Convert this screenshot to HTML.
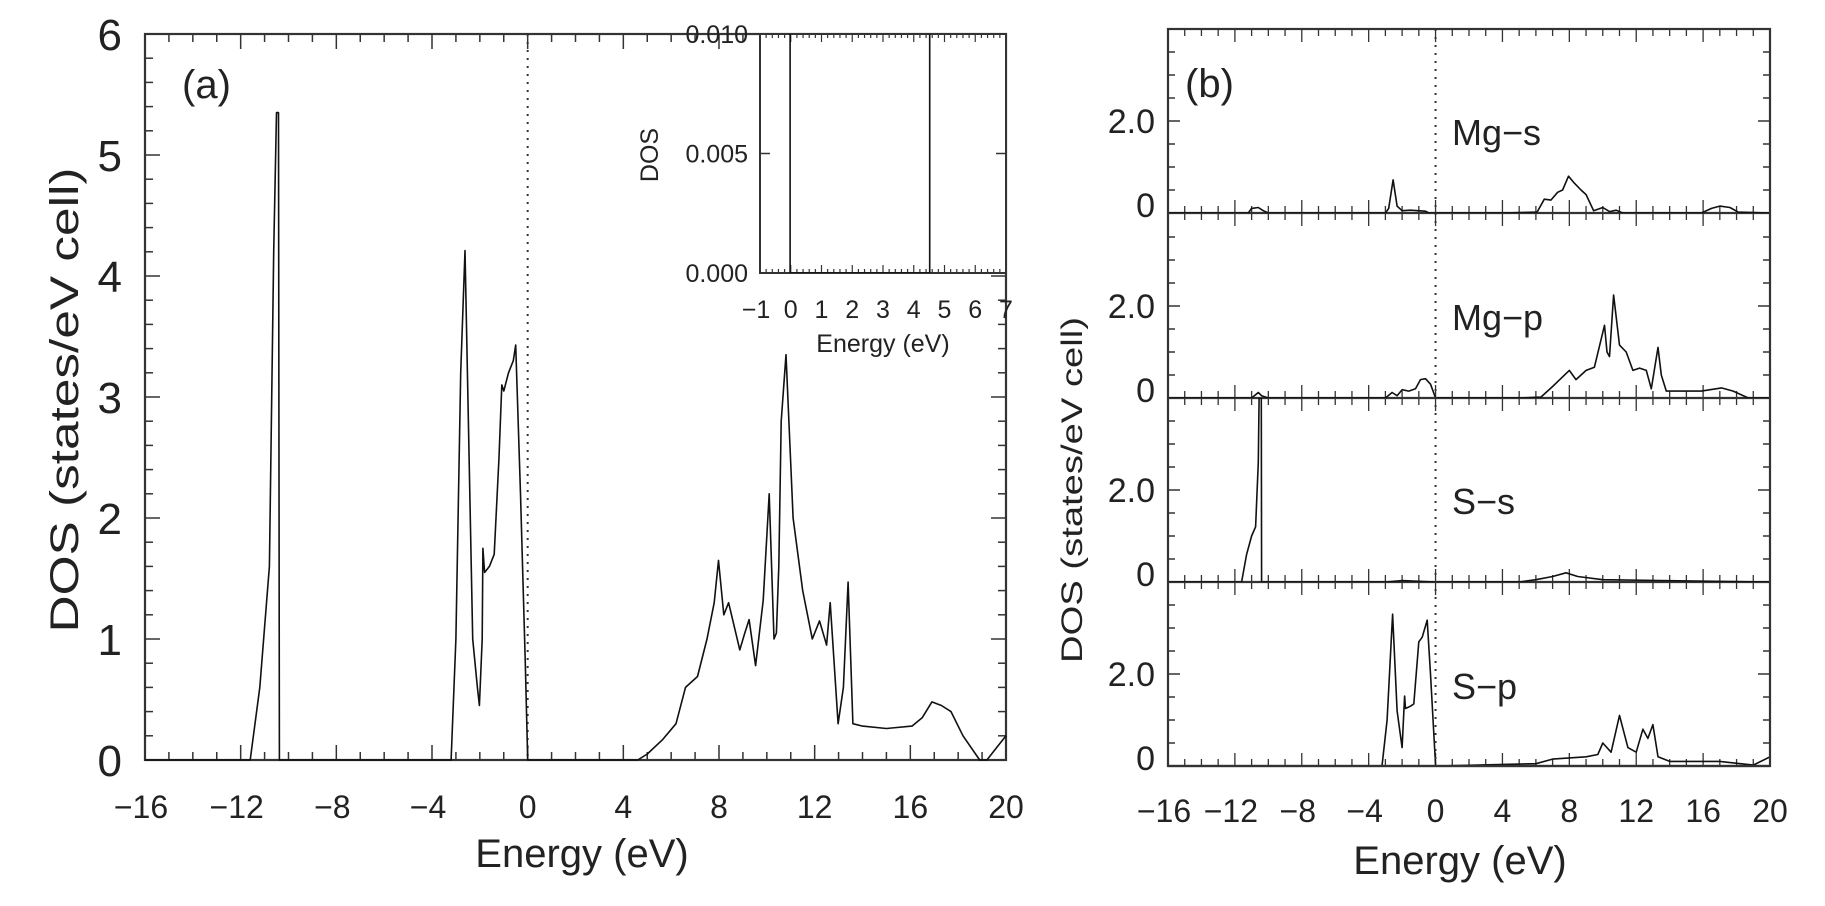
<!DOCTYPE html>
<html><head><meta charset="utf-8"><style>
html,body{margin:0;padding:0;background:#fff}
svg{display:block}
text{font-family:"Liberation Sans",sans-serif;fill:#222}
</style></head><body>
<svg id="chart" width="1825" height="906" viewBox="0 0 1825 906" xmlns="http://www.w3.org/2000/svg"></svg>
<script>
// ---------- Panel (a) total DOS ----------
const totalE = [-16,-11.6,-11.2,-10.8,-10.62,-10.5,-10.42,-10.38,-10.2,-3.2,-3.0,-2.8,-2.62,-2.5,-2.3,-2.1,-2.02,-1.9,-1.87,-1.8,-1.6,-1.4,-1.2,-1.08,-1.0,-0.8,-0.6,-0.5,-0.3,-0.1,0,4.6,5.0,5.65,6.2,6.6,7.1,7.5,7.8,7.98,8.2,8.4,8.87,9.08,9.26,9.53,9.85,10.1,10.3,10.4,10.5,10.6,10.8,11.1,11.5,11.9,12.2,12.5,12.65,12.98,13.2,13.4,13.6,14.0,15.0,16.07,16.5,16.9,17.3,17.7,18.2,18.9,19.2,19.6,20];
const totalD = [0,0,0.6,1.6,4.2,5.35,5.35,0,0,0,1.0,3.2,4.21,3.0,1.0,0.6,0.45,1.0,1.75,1.55,1.6,1.7,2.5,3.1,3.05,3.2,3.3,3.43,2.2,0.8,0,0,0.05,0.17,0.3,0.6,0.69,1.0,1.3,1.65,1.2,1.3,0.91,1.05,1.16,0.78,1.32,2.2,1.0,1.05,1.6,2.8,3.35,2.0,1.4,1.0,1.15,0.95,1.3,0.3,0.6,1.47,0.3,0.28,0.26,0.28,0.35,0.48,0.45,0.4,0.2,0,0,0.1,0.2];
const insetE = [-1,-0.02,-0.02,4.52,4.52,7];
const insetD = [0.011,0.011,0,0,0.011,0.011];
const aXTicks = [-16,-12,-8,-4,0,4,8,12,16,20];
const aYTicks = [0,1,2,3,4,5,6];
const insetXTicks = [-1,0,1,2,3,4,5,6,7];
const insetYTicks = ["0.000","0.005","0.010"];
// ---------- Panel (b) partial DOS ----------
const bNames = ["Mg−s","Mg−p","S−s","S−p"];
const mgsE = [-16,-11.2,-11,-10.6,-10.3,-10,-3.0,-2.8,-2.54,-2.3,-2.0,-1.5,-0.6,-0.4,0,4,6.07,6.5,6.9,7.3,7.6,7.95,8.3,8.7,9.0,9.45,10,10.4,10.8,11.2,15.9,16.5,17.0,17.6,18.1,20];
const mgsD = [0,0,0.1,0.12,0.05,0,0,0.1,0.72,0.15,0.05,0.06,0.04,0,0,0,0.02,0.3,0.28,0.45,0.5,0.8,0.65,0.5,0.4,0.05,0.12,0.03,0.06,0,0,0.1,0.15,0.12,0.02,0];
const mgpE = [-16,-11,-10.6,-10.4,-10,-3.0,-2.6,-2.3,-2.0,-1.6,-1.2,-0.9,-0.6,-0.3,0,5,6.3,7,8,8.4,9,9.5,10.1,10.25,10.4,10.65,11.0,11.4,11.8,12.2,12.6,12.9,13.3,13.5,13.8,15.9,17.1,17.8,18.7,20];
const mgpD = [0,0,0.12,0.05,0,0,0.12,0.05,0.18,0.15,0.2,0.4,0.42,0.3,0,0,0.02,0.25,0.6,0.4,0.6,0.67,1.58,1.0,0.9,2.24,1.15,1.0,0.6,0.65,0.6,0.2,1.1,0.5,0.15,0.15,0.22,0.15,0.0,0];
const ssE = [-16,-11.6,-11.3,-11.0,-10.76,-10.6,-10.55,-10.42,-10.4,-3,-2,0,5,6,7,7.8,8.5,10,20];
const ssD = [0,0,0.6,1.0,1.2,2.6,4.0,4.0,0,0,0.03,0,0,0.05,0.12,0.2,0.12,0.05,0];
const spE = [-16,-3.2,-2.9,-2.57,-2.3,-2.0,-1.85,-1.8,-1.5,-1.3,-1.0,-0.8,-0.5,-0.3,0,6,7,9,9.7,10,10.5,11,11.5,12,12.4,12.7,13,13.3,14,17,19,20];
const spD = [0,0,1.0,3.3,1.2,0.4,1.52,1.25,1.3,1.35,2.7,2.8,3.17,2.0,0,0.05,0.15,0.2,0.25,0.5,0.3,1.1,0.4,0.3,0.8,0.6,0.9,0.2,0.1,0.1,0.02,0.2];
const bXTicks = [-16,-12,-8,-4,0,4,8,12,16,20];
const bYTicks = [0,2];

const svg = document.getElementById('chart');
const NS = "http://www.w3.org/2000/svg";
function mk(tag, attrs, parent){
  const el = document.createElementNS(NS, tag);
  for (const k in attrs) el.setAttribute(k, attrs[k]);
  (parent||svg).appendChild(el);
  return el;
}
function line(x1,y1,x2,y2,w,parent,dash){
  const l = mk('line',{x1:x1,y1:y1,x2:x2,y2:y2,stroke:'#333','stroke-width':w||1.5},parent);
  if(dash) l.setAttribute('stroke-dasharray',dash);
  return l;
}
function txt(s,x,y,size,anchor,parent,extra){
  const t = mk('text',{x:x,y:y,'font-size':size,'text-anchor':anchor||'middle'},parent);
  if(extra) for(const k in extra) t.setAttribute(k,extra[k]);
  t.textContent = s;
  return t;
}
function pathFrom(E,D,sx,sy,parent,name){
  let d='';
  for(let i=0;i<E.length;i++){ d += (i?'L':'M')+sx(E[i]).toFixed(1)+','+sy(D[i]).toFixed(1); }
  const p = mk('path',{d:d,fill:'none',stroke:'#111','stroke-width':1.6,'stroke-linejoin':'round'},parent);
  
  
  return p;
}

// ===== Panel A =====
const gA = mk('g',{});


const aL=145, aR=1006, aT=34, aB=760;
const ax = e => aL + (e+16)*(aR-aL)/36;
const ay = v => aB - v*(aB-aT)/6;
// ticks
for(let e=-16;e<=20;e++){
  const major = aXTicks.includes(e);
  const len = major?15:8;
  line(ax(e),aB,ax(e),aB-len,1.5,gA);
  line(ax(e),aT,ax(e),aT+len,1.5,gA);
}
for(let k=0;k<=30;k++){
  const v=k*0.2, major = (k%5===0), len = major?15:8;
  line(aL,ay(v),aL+len,ay(v),1.5,gA);
  line(aR,ay(v),aR-len,ay(v),1.5,gA);
}
mk('rect',{x:aL,y:aT,width:aR-aL,height:aB-aT,fill:'none',stroke:'#333','stroke-width':2.2},gA);
line(ax(0),aT,ax(0),aB,2,gA,'2,6');
aXTicks.forEach(t=>{
  const lt = txt((t<0?'−':'')+Math.abs(t), ax(t)+(t<0?-4:0), 818, 32,'middle',gA);
  
  
});
aYTicks.forEach(t=>{
  const lt = txt(String(t), 122, ay(t)+16, 44,'end',gA);
  
  
});
const axa = txt('Energy (eV)', 582, 867, 40,'middle',gA);


const aya = txt('DOS (states/eV cell)', 0,0,40,'middle',gA,{transform:'translate(78,400) rotate(-90)',textLength:465,lengthAdjust:'spacingAndGlyphs'});


const la = txt('(a)',182,98,40,'start',gA,{'font-family':'Liberation Serif, serif'});


pathFrom(totalE,totalD,ax,ay,gA,'total-dos-line');

// inset
const gI = mk('g',{});


const iL=760, iR=1006, iT=34, iB=273;
mk('rect',{x:iL,y:iT,width:iR-iL,height:iB-iT,fill:'#fff',stroke:'none'},gI);
const ix = e => iL + (e+1)*(iR-iL)/8;
const iy = v => iB - v*(iB-iT)/0.010;
for(let k=0;k<=40;k++){
  const e=-1+k*0.2, len = (k%5===0)?8:4;
  line(ix(e),iB,ix(e),iB-len,1.2,gI);
  line(ix(e),iT,ix(e),iT+len,1.2,gI);
}
line(iL,iy(0.005),iL+10,iy(0.005),1.5,gI);
line(iR,iy(0.005),iR-10,iy(0.005),1.5,gI);
mk('rect',{x:iL,y:iT,width:iR-iL,height:iB-iT,fill:'none',stroke:'#333','stroke-width':2},gI);
const clip = mk('clipPath',{id:'insetclip'});
mk('rect',{x:iL,y:iT,width:iR-iL,height:iB-iT},clip);
const ip = pathFrom(insetE,insetD,ix,iy,gI,'inset-dos-line');
ip.setAttribute('clip-path','url(#insetclip)');
insetYTicks.forEach(t=>{
  const lt = txt(t, 748, iy(parseFloat(t))+9, 25,'end',gI);
  
  
});
insetXTicks.forEach(t=>{
  const lt = txt((t<0?'−':'')+Math.abs(t), ix(t)+(t<0?-4:0), 318, 25,'middle',gI);
  
  
});
const ixt = txt('Energy (eV)', 883, 352, 25,'middle',gI);


const iyt = txt('DOS',0,0,25,'middle',gI,{transform:'translate(658,155) rotate(-90)'});



// ===== Panel B =====
const gB = mk('g',{});


const bL=1168, bR=1770, bT=29;
const bBases=[213,398,582,766];
const bx = e => bL + (e+16)*(bR-bL)/36;
const unit = 46;
const seriesE=[mgsE,mgpE,ssE,spE], seriesD=[mgsD,mgpD,ssD,spD];
const labelY=[145,330,514,699];
bBases.forEach((base,i)=>{
  const top = i===0?bT:bBases[i-1];
  const by = v => base - v*unit;
  for(let k=1;k<=8;k++){
    const v=k*0.5, y=by(v); if(y<top+2) continue;
    const major=(k%4===0), len=major?12:7;
    line(bL,y,bL+len,y,1.5,gB);
    line(bR,y,bR-len,y,1.5,gB);
  }
  for(let e=-16;e<=20;e++){
    const major = bXTicks.includes(e), len = major?13:7;
    line(bx(e),base-len,bx(e),base+(i<3?len:0),1.3,gB);
  }
  line(bL,base,bR,base,2.2,gB);
  const cp = mk('clipPath',{id:'bclip'+i});
  mk('rect',{x:bL,y:top,width:bR-bL,height:base-top},cp);
  const p = pathFrom(seriesE[i],seriesD[i],bx,by,gB,'pdos-line-'+i);
  p.setAttribute('clip-path','url(#bclip'+i+')');
  bYTicks.forEach(t=>{
    const lt = txt(t===0?'0':t.toFixed(1), 1155, by(t)+(t===0?4:12), 34,'end',gB);
    
    
  });
  const nl = txt(bNames[i], 1452, labelY[i], 36,'start',gB);
  
  
});
for(let e=-16;e<=20;e++){
  const major = bXTicks.includes(e), len = major?13:7;
  line(bx(e),bT,bx(e),bT+len,1.3,gB);
}
mk('rect',{x:bL,y:bT,width:bR-bL,height:bBases[3]-bT,fill:'none',stroke:'#333','stroke-width':2.2},gB);
line(bx(0),bT,bx(0),bBases[3],2,gB,'2,6');
bXTicks.forEach(t=>{
  const lt = txt((t<0?'−':'')+Math.abs(t), bx(t)+(t<0?-4:0), 822, 32,'middle',gB);
  
  
});
const axb = txt('Energy (eV)', 1460, 874, 40,'middle',gB);


const ayb = txt('DOS (states/eV cell)',0,0,30,'middle',gB,{transform:'translate(1082,490) rotate(-90)',textLength:346,lengthAdjust:'spacingAndGlyphs'});


const lb = txt('(b)',1185,97,40,'start',gB,{'font-family':'Liberation Serif, serif'});


</script>
</body></html>
